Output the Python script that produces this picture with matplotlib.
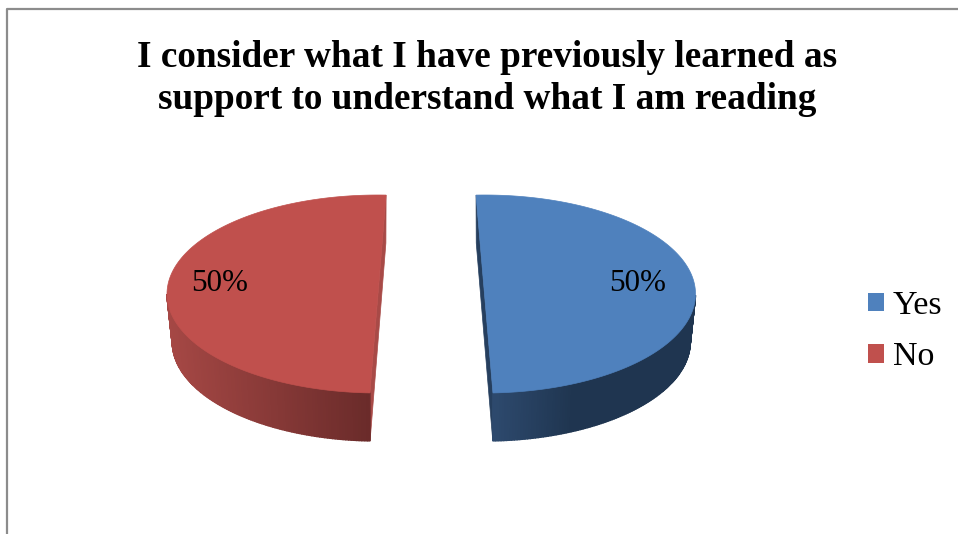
"""Exploded 3D-style pie: prior knowledge survey question."""

import numpy as np
import matplotlib
matplotlib.use("Agg")
import matplotlib.pyplot as plt
from matplotlib.colors import to_rgb
from matplotlib.patches import Patch

plt.rcParams["font.family"] = ["Liberation Serif", "DejaVu Serif"]

TITLE = "I consider what I have previously learned as\nsupport to understand what I am reading"
categories = ["Yes", "No"]
shares = [50, 50]
percent_labels = ["50%", "50%"]

TOP_COLORS = ["#4F81BD", "#C0504D"]
CUT_COLORS = ["#263F5E", "#A84A47"]
# side wall shading, from the cut edge of the slice outward
SIDE_COLORS = [("#2E4A6E", "#1F3550"), ("#6A2B2A", "#A64845")]
SHADE_REACH = [0.4, 1.0]  # how far along the wall the shading runs

CENTERS = [(484.5, 294.0), (378.0, 294.0)]
START_ANGLES = [92.3, 87.8]
DIRECTIONS = [-1, 1]  # Yes runs clockwise from the top, No the other way
RX, RY = 211.0, 99.0
DEPTH = 48.0
BOTTOM_SCALE = 0.975  # base looks a little narrower, as in perspective


fig = plt.figure(figsize=(9.58, 5.34), dpi=100, facecolor="white")
ax = fig.add_axes([0, 0, 1, 1])
ax.set_xlim(0, 958)
ax.set_ylim(534, 0)
ax.axis("off")

# chart frame, cropped at the right and bottom of the picture
ax.plot([7.5, 7.5, 958], [534, 8.5, 8.5], color="#8C8C8C", lw=1.6, solid_capstyle="butt")

fractions = np.array(shares) / np.sum(shares)
for i, frac in enumerate(fractions):
    cx, cy = CENTERS[i]
    t = np.radians(START_ANGLES[i] + DIRECTIONS[i] * 360.0 * frac * np.linspace(0, 1, 241))
    xs = cx + RX * np.cos(t)
    ys = cy - RY * np.sin(t)
    xb = cx + RX * BOTTOM_SCALE * np.cos(t)
    yb = ys + DEPTH

    # cut face
    ax.fill([xs[0], xs[-1], xb[-1], xb[0]], [ys[0], ys[-1], yb[-1], yb[0]],
            color=CUT_COLORS[i], lw=0.5, zorder=1)

    # side wall, only the part facing the viewer
    front = np.where(np.sin(t) <= 0)[0]
    c_a, c_b = np.array(to_rgb(SIDE_COLORS[i][0])), np.array(to_rgb(SIDE_COLORS[i][1]))
    x_cut = xs[-1]
    x_far = xs[np.argmax(np.abs(xs - x_cut))]
    for k, k_next in zip(front[:-1], front[1:]):
        pos = abs(xs[k] - x_cut) / abs(x_far - x_cut)
        col = c_a + (c_b - c_a) * min(pos / SHADE_REACH[i], 1.0)
        ax.fill([xs[k], xs[k_next], xb[k_next], xb[k]],
                [ys[k], ys[k_next], yb[k_next], yb[k]],
                facecolor=col, edgecolor=col, lw=1.0, zorder=2)

    # top surface
    ax.fill(xs, ys, color=TOP_COLORS[i], lw=0.5, zorder=3)

ax.text(637.5, 283.5, percent_labels[0], fontsize=22.4, ha="center", va="center", color="black", zorder=4)
ax.text(219.5, 283.5, percent_labels[1], fontsize=22.4, ha="center", va="center", color="black", zorder=4)

ax.text(487.5, 78.5, TITLE, fontsize=26.85, fontweight="bold", ha="center", va="center",
        linespacing=1.29, color="black")

handles = [Patch(facecolor=c, edgecolor="none") for c in TOP_COLORS]
ax.legend(handles, categories, loc="center left", bbox_to_anchor=(868 / 958, 1 - 331.5 / 534),
          frameon=False, fontsize=24.5, handlelength=0.47, handleheight=0.47,
          handletextpad=0.26, labelspacing=0.61, borderpad=0, borderaxespad=0)

fig.savefig("out.png", dpi=100)
plt.close(fig)
